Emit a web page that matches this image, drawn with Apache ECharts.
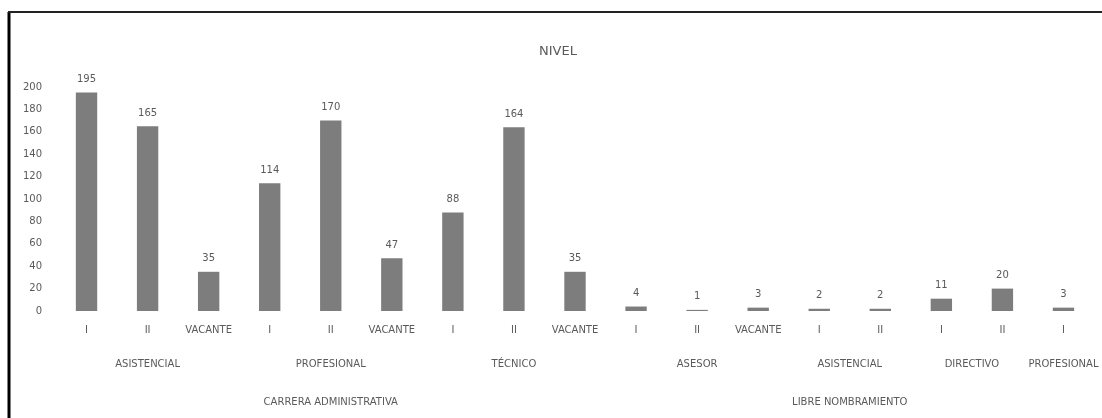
<!DOCTYPE html>
<html>
<head>
<meta charset="utf-8">
<script src="https://cdn.jsdelivr.net/npm/echarts@6/dist/echarts.min.js"></script>
<style>
  html, body { margin: 0; padding: 0; background: #fff; }
  #chart { width: 1102px; height: 418px; }
</style>
</head>
<body>
<div id="chart"></div>
<script>
// nivel de cada barra
var nivel = ['I', 'II', 'VACANTE', 'I', 'II', 'VACANTE', 'I', 'II', 'VACANTE', 'I', 'II', 'VACANTE', 'I', 'II', 'I', 'II', 'I'];
var valores = [195, 165, 35, 114, 170, 47, 88, 164, 35, 4, 1, 3, 2, 2, 11, 20, 3];

// grupos del eje (cargo y tipo de vinculacion)
var cargos = ['ASISTENCIAL', 'PROFESIONAL', 'TÉCNICO', 'ASESOR', 'ASISTENCIAL', 'DIRECTIVO', 'PROFESIONAL'];
var cargosN = [3, 3, 3, 3, 2, 2, 1];
var tipos = ['CARRERA ADMINISTRATIVA', 'LIBRE NOMBRAMIENTO'];
var tiposN = [9, 8];

var yTicks = [0, 20, 40, 60, 80, 100, 120, 140, 160, 180, 200];

// posicion central de cada grupo sobre el eje
function centros(nombres, tam) {
  var m = {}, ini = 0
  nombres.forEach(function (n, i) {
    m[(ini + (tam[i] - 1) / 2).toFixed(1)] = n
    ini += tam[i]
  })
  return m
}
var cCargo = centros(cargos, cargosN);
var cTipo = centros(tipos, tiposN);

var txt = '#5a5a5a';
var chart = echarts.init(document.getElementById('chart'));

var grid = { left: 56, right: 8, top: 87, bottom: 107 };

function ejeGrupo(mapa, offset) {
  return {
    type: 'value',
    gridIndex: 0,
    position: 'bottom',
    min: -0.5,
    max: nivel.length - 0.5,
    interval: 0.5,
    offset: offset,
    axisLine: { show: false },
    axisTick: { show: false },
    splitLine: { show: false },
    axisLabel: {
      showMinLabel: true,
      showMaxLabel: true,
      hideOverlap: false,
      color: txt,
      fontSize: 10,
      fontFamily: 'DejaVu Sans',
      formatter: function (v) {
        return mapa[v.toFixed(1)] || ''
      }
    }
  }
}

var option = {
  animation: false,
  backgroundColor: '#fff',
  title: {
    text: 'NIVEL',
    left: 553,
    top: 40,
    textAlign: 'center',
    textStyle: { color: txt, fontSize: 13, fontWeight: 'normal', fontFamily: 'DejaVu Sans' }
  },
  grid: grid,
  xAxis: [
    {
      type: 'category',
      data: nivel,
      axisLine: { show: false },
      axisTick: { show: false },
      axisLabel: { interval: 0, margin: 14, color: txt, fontSize: 10, fontFamily: 'DejaVu Sans' }
    },
    ejeGrupo(cCargo, 40),
    ejeGrupo(cTipo, 78)
  ],
  yAxis: {
    type: 'value',
    min: 0,
    max: yTicks[yTicks.length - 1],
    interval: 20,
    axisLine: { show: false },
    axisTick: { show: false },
    splitLine: { show: false },
    axisLabel: { color: txt, fontSize: 10, margin: 14, fontFamily: 'DejaVu Sans' }
  },
  series: [
    {
      type: 'bar',
      data: valores,
      barWidth: '35%',
      itemStyle: { color: '#7d7d7d' },
      label: {
        show: true,
        position: 'top',
        distance: 8,
        color: txt,
        fontSize: 10,
        fontFamily: 'DejaVu Sans'
      }
    }
  ],
  graphic: [
    { type: 'line', shape: { x1: 9, y1: 12, x2: 9, y2: 418 }, style: { stroke: '#000', lineWidth: 3 } },
    { type: 'line', shape: { x1: 8, y1: 12, x2: 1102, y2: 12 }, style: { stroke: '#222', lineWidth: 2 } }
  ]
};

chart.setOption(option);
</script>
</body>
</html>
